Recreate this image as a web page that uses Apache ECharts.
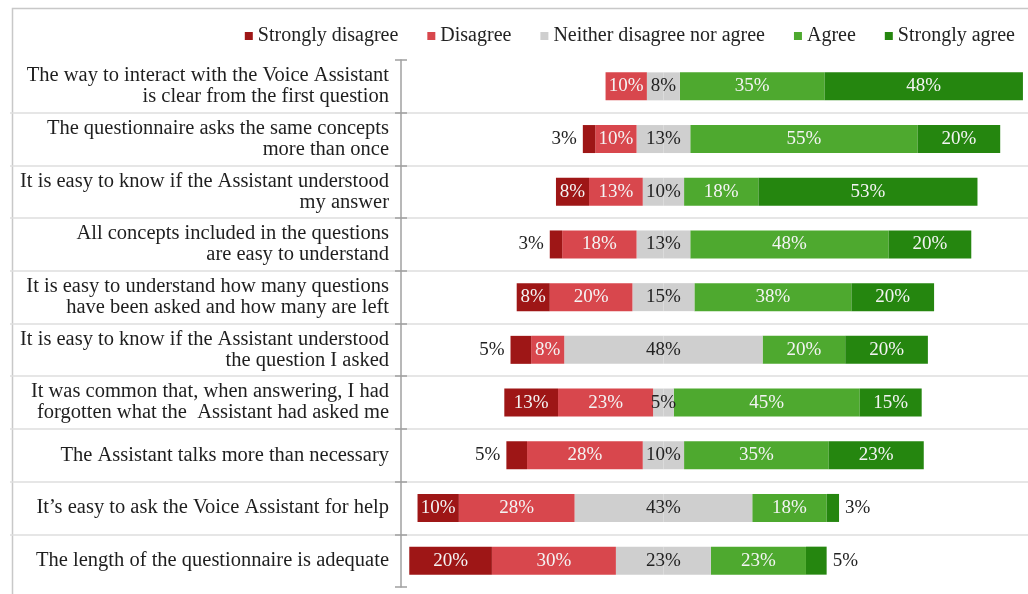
<!DOCTYPE html>
<html>
<head>
<meta charset="utf-8">
<script src="https://cdn.jsdelivr.net/npm/echarts@6/dist/echarts.min.js"></script>
<style>
  html, body { margin: 0; padding: 0; background: #fff; }
  #chart { width: 1028px; height: 594px; }
</style>
</head>
<body>
<div id="chart"></div>
<script>
// Survey statements, top to bottom
const statements = [
  'The way to interact with the Voice Assistant\nis clear from the first question',
  'The questionnaire asks the same concepts\nmore than once',
  'It is easy to know if the Assistant understood\nmy answer',
  'All concepts included in the questions\nare easy to understand',
  'It is easy to understand how many questions\nhave been asked and how many are left',
  'It is easy to know if the Assistant understood\nthe question I asked',
  'It was common that, when answering, I had\nforgotten what the  Assistant had asked me',
  'The Assistant talks more than necessary',
  'It\u2019s easy to ask the Voice Assistant for help',
  'The length of the questionnaire is adequate'
];

// Share of answers (%) per statement
const stronglyDisagree = [0, 3, 8, 3, 8, 5, 13, 5, 10, 20];
const disagree         = [10, 10, 13, 18, 20, 8, 23, 28, 28, 30];
const neutral          = [8, 13, 10, 13, 15, 48, 5, 10, 43, 23];
const agree            = [35, 55, 18, 48, 38, 20, 45, 35, 18, 23];
const stronglyAgree    = [48, 20, 53, 20, 20, 20, 15, 23, 3, 5];

const names = ['Strongly disagree', 'Disagree', 'Neither disagree nor agree', 'Agree', 'Strongly agree'];
const colors = ['#9e1616', '#d8474d', '#cfcfcf', '#4ea92f', '#25860f'];

const SERIF = '"Liberation Serif", "Times New Roman", serif';
const LABEL_SIZE = 19;

function pct(v) { return v + '%'; }

// Segments that are too thin for their label get it outside the bar
function segData(values, side, outsidePos) {
  return values.map(function (v) {
    const item = { value: side * v };
    if (v === 0) {
      item.label = { show: false };
    } else if (v <= 5 && outsidePos) {
      item.label = { position: outsidePos, color: '#222', distance: 6 };
    }
    return item;
  });
}

const whiteLabel = {
  show: true,
  color: '#f4f4f4',
  fontFamily: SERIF,
  fontSize: LABEL_SIZE
};

const common = {
  type: 'bar',
  stack: 'likert',
  barWidth: 28,
  xAxisIndex: 0,
  yAxisIndex: 0,
  emphasis: { disabled: true }
};

const tickStyle = { color: '#a0a0a0', width: 1.5 };

const option = {
  animation: false,
  backgroundColor: '#ffffff',
  graphic: [{
    type: 'rect',
    left: 10, top: 6,
    shape: { width: 1040, height: 620 },
    style: { fill: 'none', stroke: '#c8c8c8', lineWidth: 1.5 },
    silent: true,
    z: -10
  }],
  legend: {
    data: names,
    right: 8,
    top: 21,
    itemWidth: 8,
    itemHeight: 8,
    itemGap: 29,
    icon: 'rect',
    selectedMode: false,
    textStyle: { fontFamily: SERIF, fontSize: 20, color: '#222' }
  },
  grid: [
    { left: 401, top: 60, bottom: 7, width: 624, containLabel: false },
    // full-width band used only for the row separators
    { left: 10, top: 60, bottom: 7, right: 0, containLabel: false }
  ],
  xAxis: [
    { gridIndex: 0, type: 'value', min: -63.5, max: 87.5, show: false },
    { gridIndex: 1, type: 'value', min: 0, max: 1, show: false }
  ],
  yAxis: [
    {
      gridIndex: 0,
      type: 'category',
      data: statements,
      inverse: true,
      position: 'left',
      axisLine: { show: true, onZero: false, lineStyle: tickStyle },
      axisTick: { show: true, length: 6, lineStyle: tickStyle },
      axisLabel: {
        margin: 12,
        fontFamily: SERIF,
        fontSize: 20.5,
        lineHeight: 21,
        color: '#1e1e1e',
        align: 'right'
      },
      splitLine: { show: false }
    },
    {
      // inner half of the cross ticks on the category axis
      gridIndex: 0,
      type: 'category',
      data: statements,
      inverse: true,
      position: 'left',
      axisLine: { show: false, onZero: false },
      axisLabel: { show: false },
      axisTick: { show: true, inside: true, length: 6, lineStyle: tickStyle },
      splitLine: { show: false }
    },
    {
      gridIndex: 1,
      type: 'category',
      data: statements,
      inverse: true,
      axisLine: { show: false, onZero: false },
      axisTick: { show: false },
      axisLabel: { show: false },
      splitLine: {
        show: true,
        showMinLine: false,
        showMaxLine: false,
        lineStyle: { color: '#dedede', width: 1.5 }
      }
    }
  ],
  series: [
    // left half of the neutral segment, drawn left of zero
    Object.assign({}, common, {
      name: names[2],
      itemStyle: { color: colors[2] },
      data: neutral.map(function (v) { return -v / 2; }),
      label: { show: false },
      z: 2
    }),
    Object.assign({}, common, {
      name: names[1],
      itemStyle: { color: colors[1] },
      data: segData(disagree, -1, null),
      label: Object.assign({}, whiteLabel, { formatter: function (p) { return pct(-p.value); } })
    }),
    Object.assign({}, common, {
      name: names[0],
      itemStyle: { color: colors[0] },
      data: segData(stronglyDisagree, -1, 'left'),
      label: Object.assign({}, whiteLabel, { formatter: function (p) { return pct(-p.value); } })
    }),
    // right half of the neutral segment carries the full neutral label at zero
    Object.assign({}, common, {
      name: names[2],
      itemStyle: { color: colors[2] },
      data: neutral.map(function (v) { return v / 2; }),
      label: {
        show: true,
        position: [0, '50%'],
        align: 'center',
        verticalAlign: 'middle',
        color: '#222',
        fontFamily: SERIF,
        fontSize: LABEL_SIZE,
        formatter: function (p) { return pct(neutral[p.dataIndex]); }
      },
      z: 3
    }),
    Object.assign({}, common, {
      name: names[3],
      itemStyle: { color: colors[3] },
      data: segData(agree, 1, null),
      label: Object.assign({}, whiteLabel, { formatter: function (p) { return pct(p.value); } })
    }),
    Object.assign({}, common, {
      name: names[4],
      itemStyle: { color: colors[4] },
      data: segData(stronglyAgree, 1, 'right'),
      label: Object.assign({}, whiteLabel, { formatter: function (p) { return pct(p.value); } })
    })
  ]
};

const chart = echarts.init(document.getElementById('chart'), null, { renderer: 'canvas' });
chart.setOption(option);
</script>
</body>
</html>
